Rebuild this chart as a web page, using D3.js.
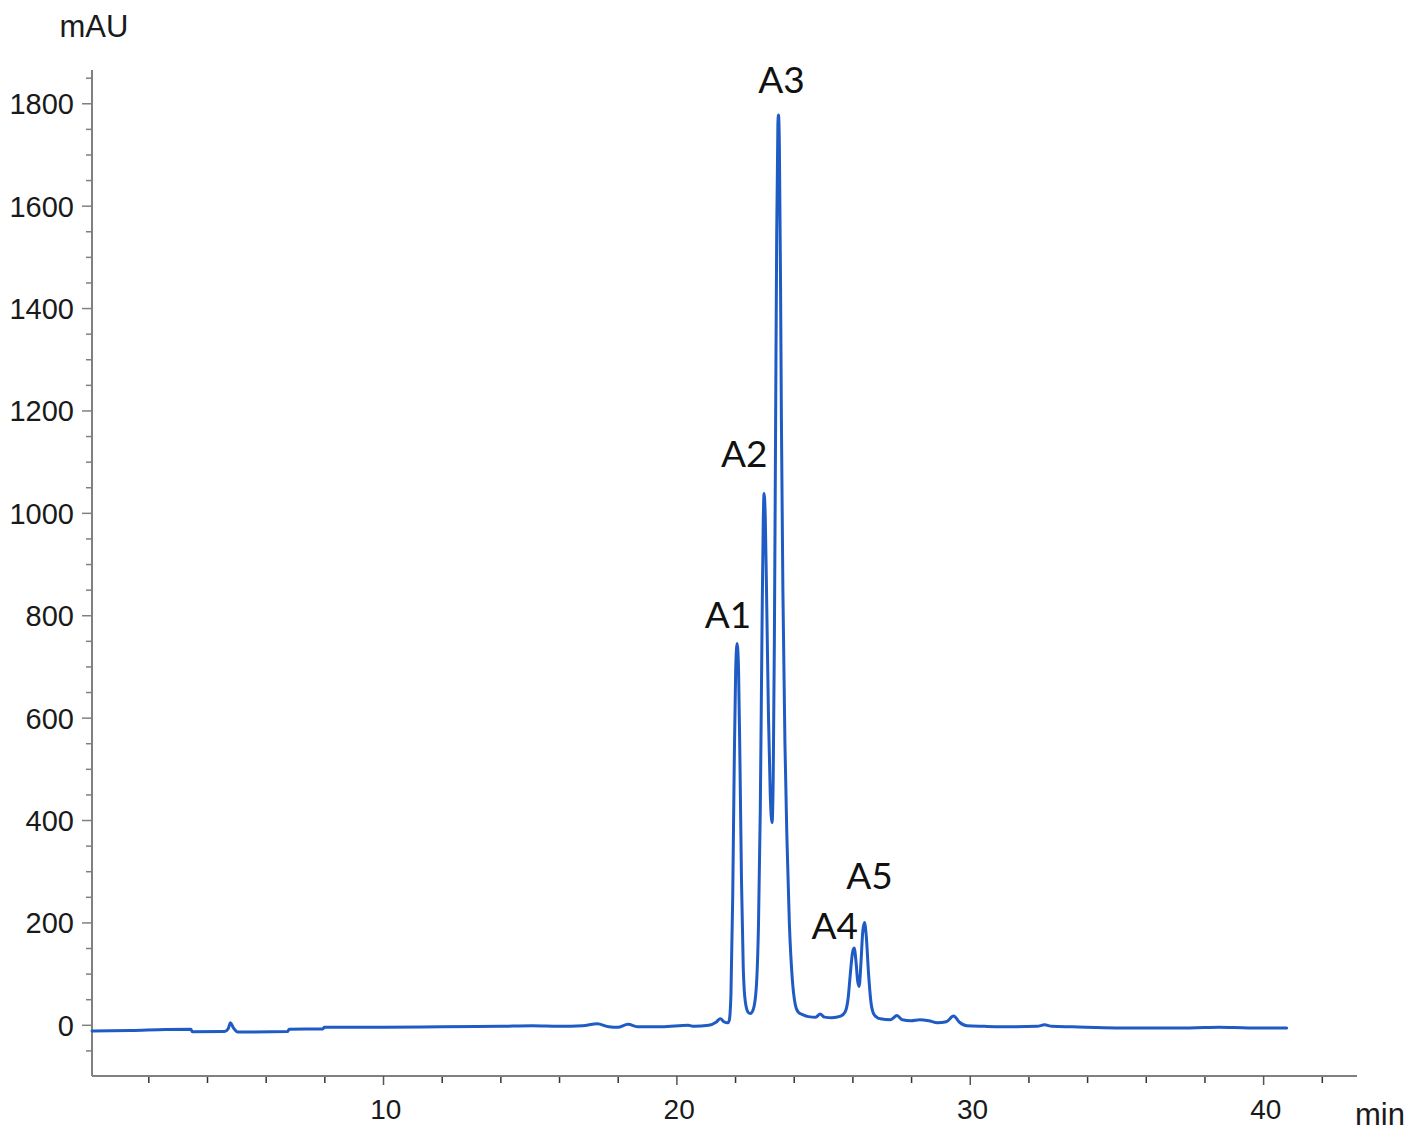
<!DOCTYPE html>
<html>
<head>
<meta charset="utf-8">
<script src="https://cdn.jsdelivr.net/npm/d3@7"></script>
<style>
  html, body { margin: 0; padding: 0; background: #fff; }
  svg { display: block; }
</style>
</head>
<body>
<svg id="chart" width="1418" height="1141"></svg>
<script>
// Retention time (min) and absorbance (mAU)
const times = [
  0.08, 1.4, 2.6, 3.45, 3.5, 4.6, 4.72, 4.8, 4.9, 5.05, 6.75, 6.8, 7.95, 8.0,
  10, 12, 14, 15.1, 16, 16.8, 17.3, 17.7, 18.0, 18.35, 18.7, 19.5, 20.4, 20.6,
  21.1, 21.35, 21.5, 21.62, 21.75,
  21.8, 21.86, 21.92, 21.97, 22.02, 22.07, 22.12, 22.17, 22.22, 22.28, 22.35, 22.45, 22.52,
  22.62, 22.72, 22.8, 22.86, 22.92, 22.96, 22.99, 23.03, 23.08, 23.14, 23.2, 23.26,
  23.3, 23.34, 23.38, 23.42, 23.46, 23.48, 23.51, 23.55, 23.58, 23.63, 23.7, 23.77,
  23.85, 23.95, 24.05, 24.15, 24.3, 24.5, 24.75, 24.9, 25.05, 25.3,
  25.6, 25.75, 25.85, 25.93, 26.0, 26.06, 26.12, 26.18, 26.23, 26.29, 26.35, 26.41,
  26.47, 26.55, 26.63, 26.72, 26.85, 26.95, 27.3, 27.52, 27.7, 28.0, 28.3, 28.6,
  28.9, 29.2, 29.45, 29.65, 29.9, 30.5, 31.5, 32.3, 32.55, 32.8, 33.5, 35.0, 36.5,
  37.5, 38.5, 39.5, 40.8
];
const mAU = [
  -12, -11, -9, -8.5, -13.5, -13, -8, 4, -6, -14, -13, -8.5, -8, -5,
  -5, -4, -3, -2, -3, -2, 2, -4, -5, 1, -4, -4, -1, -3,
  -1, 5, 12, 6, 4,
  8, 60, 250, 500, 690, 745, 690, 500, 280, 110, 45, 24, 22,
  30, 70, 200, 420, 780, 980, 1038, 990, 820, 600, 450, 395,
  480, 750, 1150, 1550, 1760, 1777, 1720, 1450, 1180, 850, 550, 360,
  200, 90, 40, 25, 20, 16, 15, 21, 15, 14,
  17, 25, 50, 100, 140, 150, 125, 85, 75, 120, 180, 200,
  175, 100, 45, 22, 14, 12, 10, 18, 10, 8, 10, 8,
  4, 6, 17, 5, -2, -3, -4, -3, 0, -3, -4, -6, -6,
  -6, -5, -6, -6
];
const peakNames = ["A1", "A2", "A3", "A4", "A5"];
const peakLabelTimes = [21.76, 22.31, 23.58, 25.4, 26.58];
const peakLabelValues = [775, 1090, 1820, 167, 265];

const yMajorTicks = [0, 200, 400, 600, 800, 1000, 1200, 1400, 1600, 1800];
const xMajorTicks = [10, 20, 30, 40];

const xDomain = [0.08, 43.2];
const yDomain = [-100, 1865];

const svg = d3.select("#chart");
const x = d3.scaleLinear().domain(xDomain).range([92, 1357]);
const y = d3.scaleLinear().domain(yDomain).range([1076, 70]);

const axisColor = "#808080";
const labelFont = "'Liberation Sans', Arial, sans-serif";

// Y axis minor ticks
const yMinor = d3.range(-50, 1851, 50).filter(v => v % 200 !== 0);
const yAxisMinor = d3.axisLeft(y).tickValues(yMinor).tickSize(6).tickFormat("");
const gyMinor = svg.append("g").attr("transform", "translate(92,0)").call(yAxisMinor);
gyMinor.select(".domain").remove();
gyMinor.selectAll("line").attr("stroke", axisColor).attr("stroke-width", 1.5);

// Y axis major
const yAxis = d3.axisLeft(y).tickValues(yMajorTicks).tickSize(10).tickPadding(8).tickFormat(d3.format("d"));
const gy = svg.append("g").attr("transform", "translate(92,0)").call(yAxis);
gy.select(".domain").attr("stroke", axisColor).attr("stroke-width", 2)
  .attr("d", `M0,${y(yDomain[1])}V${y(yDomain[0])}`);
gy.selectAll(".tick line").attr("stroke", axisColor).attr("stroke-width", 1.5);
gy.selectAll(".tick text").attr("font-family", labelFont).attr("font-size", 29)
  .attr("fill", "#1a1a1a").attr("dy", "0.36em");

// X axis minor ticks
const xMinor = d3.range(2, 43, 2).filter(v => v % 10 !== 0);
const xAxisMinor = d3.axisBottom(x).tickValues(xMinor).tickSize(7).tickFormat("");
const gxMinor = svg.append("g").attr("transform", "translate(0,1076)").call(xAxisMinor);
gxMinor.select(".domain").remove();
gxMinor.selectAll("line").attr("stroke", "#333").attr("stroke-width", 1.5);

// X axis major
const xAxis = d3.axisBottom(x).tickValues(xMajorTicks).tickSize(9).tickPadding(14).tickFormat(d3.format("d"));
const gx = svg.append("g").attr("transform", "translate(0,1076)").call(xAxis);
gx.select(".domain").attr("stroke", axisColor).attr("stroke-width", 2)
  .attr("d", `M${x(xDomain[0])},0H${x(xDomain[1])}`);
gx.selectAll(".tick line").attr("stroke", "#555").attr("stroke-width", 1.5);
gx.selectAll(".tick text").attr("font-family", labelFont).attr("font-size", 28)
  .attr("fill", "#1a1a1a").attr("dx", "0.08em");

// Axis titles
svg.append("text").attr("x", 94).attr("y", 37).attr("text-anchor", "middle")
  .attr("font-family", labelFont).attr("font-size", 31).attr("fill", "#1a1a1a").text("mAU");
svg.append("text").attr("x", 1380).attr("y", 1125).attr("text-anchor", "middle")
  .attr("font-family", labelFont).attr("font-size", 31).attr("fill", "#1a1a1a").text("min");

// Trace
const pts = times.map((t, i) => [t, mAU[i]]);
const line = d3.line().x(d => x(d[0])).y(d => y(d[1])).curve(d3.curveMonotoneX);
svg.append("path").datum(pts).attr("d", line)
  .attr("fill", "none").attr("stroke", "#1f5bc4").attr("stroke-width", 3)
  .attr("stroke-linejoin", "round").attr("stroke-linecap", "round");

// Peak labels
svg.append("g").selectAll("text").data(peakNames).join("text")
  .attr("x", (d, i) => x(peakLabelTimes[i]))
  .attr("y", (d, i) => y(peakLabelValues[i]))
  .attr("text-anchor", "middle")
  .attr("font-family", "Lato, 'Open Sans', sans-serif")
  .attr("font-size", 37)
  .attr("fill", "#111")
  .text(d => d);
</script>
</body>
</html>
